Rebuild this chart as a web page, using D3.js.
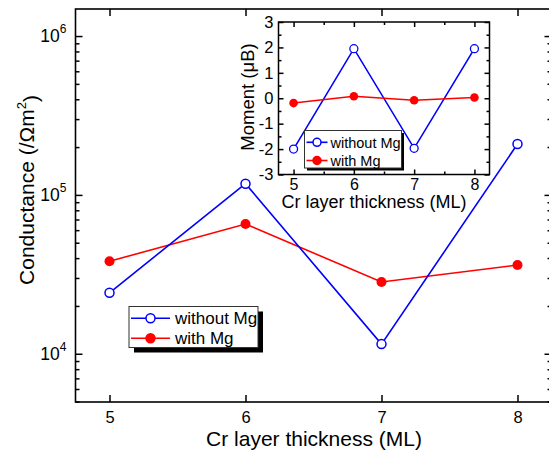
<!DOCTYPE html>
<html>
<head>
<meta charset="utf-8">
<script src="https://cdn.jsdelivr.net/npm/d3@7"></script>
<style>
  body { margin: 0; background: #fff; }
  svg { display: block; font-family: "Liberation Sans", Arial, sans-serif; }
  .axis .domain { display: none; }
  .axis line { stroke: #000; stroke-width: 1.5; }
  .axis text { fill: #000; }
</style>
</head>
<body>
<div id="chart"></div>
<script>
// data
const thickness = [5, 6, 7, 8];
const condWithout = [24200, 117600, 11500, 209000];
const condWith = [38200, 65600, 28300, 36200];
const momentWithout = [-2.0, 1.95, -1.97, 1.95];
const momentWith = [-0.19, 0.08, -0.08, 0.03];
const seriesNames = ["without Mg", "with Mg"];
const condDecades = [1e4, 1e5, 1e6];
const momentTicks = [-3, -2, -1, 0, 1, 2, 3];
const momentMinor = [-2.5, -1.5, -0.5, 0.5, 1.5, 2.5];
const thickMinor = [5.5, 6.5, 7.5];

const width = 549, height = 455,
    main = {left: 75.5, right: 551.5, top: 9, bottom: 402},
    ins = {left: 278.5, right: 489.5, top: 22, bottom: 174.5},
    blue = "#0000ff", red = "#ff0000",
    font = "Liberation Sans, Arial, sans-serif";

const svg = d3.select("#chart")
    .append("svg")
    .attr("width", width)
    .attr("height", height);

// small helper: put an axis in a group, with our own font
function addAxis(axis, tx, ty, size) {
    return svg.append("g")
        .attr("class", "axis")
        .attr("transform", `translate(${tx}, ${ty})`)
        .call(axis)
        .attr("font-size", size || 10)
        .attr("font-family", font);
}

// ---------- main plot ----------
const x = d3.scaleLinear()
    .domain([4.75, 8.25])
    .range([main.left, main.right]);

const y = d3.scaleLog()
    .domain([4970, 1.48e6])
    .range([main.bottom, main.top]);

const logMinor = [];
[1e3, 1e4, 1e5, 1e6].forEach(d => {
    for (let k = 2; k <= 9; k++) {
        const v = d * k;
        if (v > y.domain()[0] && v < y.domain()[1]) logMinor.push(v);
    }
});

svg.append("rect")
    .attr("x", main.left).attr("y", main.top)
    .attr("width", main.right - main.left)
    .attr("height", main.bottom - main.top)
    .attr("fill", "none").attr("stroke", "#000").attr("stroke-width", 1.6);

addAxis(d3.axisBottom(x).tickValues(thickness).tickSize(-7).tickPadding(9).tickFormat(d3.format("d")),
    0, main.bottom, 16.5);
addAxis(d3.axisTop(x).tickValues(thickness).tickSize(-7).tickFormat(""), 0, main.top);

const yAxisG = addAxis(d3.axisLeft(y).tickValues(condDecades).tickSize(-7).tickPadding(9),
    main.left, 0, 17.5);

yAxisG.selectAll(".tick text")
    .each(function(d) {
        const t = d3.select(this).text(null);
        t.append("tspan").text("10");
        t.append("tspan").attr("dy", "-0.75em").attr("font-size", 12).text(Math.round(Math.log10(d)));
    });

addAxis(d3.axisLeft(y).tickValues(logMinor).tickSize(-4).tickFormat(""), main.left, 0);
addAxis(d3.axisRight(y).tickValues(condDecades).tickSize(-7).tickFormat(""), main.right, 0);
addAxis(d3.axisRight(y).tickValues(logMinor).tickSize(-4).tickFormat(""), main.right, 0);

// axis titles
svg.append("text")
    .attr("x", 314).attr("y", 445.5)
    .attr("text-anchor", "middle")
    .attr("font-size", "21px")
    .text("Cr layer thickness (ML)");

const yTitle = svg.append("text")
    .attr("transform", "translate(33.5, 190) rotate(-90)")
    .attr("text-anchor", "middle")
    .attr("font-size", "21px");
yTitle.append("tspan").text("Conductance (/\u03A9m");
yTitle.append("tspan").attr("dy", "-0.6em").attr("font-size", "13px").text("2");
yTitle.append("tspan").attr("dy", "0.6em").text(")");

// series
const mainLine = vals => d3.line()
    .x((d, i) => x(thickness[i]))
    .y(d => y(d))(vals);

svg.append("path").attr("d", mainLine(condWith))
    .attr("fill", "none").attr("stroke", red).attr("stroke-width", 1.6);
svg.append("path").attr("d", mainLine(condWithout))
    .attr("fill", "none").attr("stroke", blue).attr("stroke-width", 1.6);

svg.selectAll(".dot-with")
    .data(condWith)
    .join("circle")
    .attr("cx", (d, i) => x(thickness[i]))
    .attr("cy", d => y(d))
    .attr("r", 5)
    .attr("fill", red);

svg.selectAll(".dot-without")
    .data(condWithout)
    .join("circle")
    .attr("cx", (d, i) => x(thickness[i]))
    .attr("cy", d => y(d))
    .attr("r", 4.5)
    .attr("fill", "#fff").attr("stroke", blue).attr("stroke-width", 1.5);

// legend with drop shadow
function legend(g, opt) {
    g.append("rect")
        .attr("x", opt.x + opt.shadow).attr("y", opt.y + opt.shadow)
        .attr("width", opt.w).attr("height", opt.h).attr("fill", "#000");
    g.append("rect")
        .attr("x", opt.x).attr("y", opt.y)
        .attr("width", opt.w).attr("height", opt.h)
        .attr("fill", "#fff").attr("stroke", "#333").attr("stroke-width", 1);
    seriesNames.forEach((name, i) => {
        const ly = opt.rows[i], col = i === 0 ? blue : red;
        g.append("line")
            .attr("x1", opt.x + 2).attr("x2", opt.x + 2 + opt.lineLen)
            .attr("y1", ly).attr("y2", ly)
            .attr("stroke", col).attr("stroke-width", 1.6);
        g.append("circle")
            .attr("cx", opt.x + 2 + opt.lineLen / 2).attr("cy", ly)
            .attr("r", opt.r)
            .attr("fill", i === 0 ? "#fff" : red)
            .attr("stroke", col).attr("stroke-width", 1.5);
        g.append("text")
            .attr("x", opt.x + opt.textX).attr("y", ly + opt.fs * 0.36)
            .attr("font-size", opt.fs + "px")
            .text(name);
    });
}

legend(svg.append("g"), {x: 129, y: 306.5, w: 129, h: 41, shadow: 5,
    rows: [318.3, 338.3], lineLen: 39, r: 4.5, textX: 46, fs: 17});

// ---------- inset ----------
const xi = d3.scaleLinear()
    .domain([4.75, 8.25])
    .range([ins.left, ins.right]);

const yi = d3.scaleLinear()
    .domain([-3, 3])
    .range([ins.bottom, ins.top]);

svg.append("rect")
    .attr("x", ins.left).attr("y", ins.top)
    .attr("width", ins.right - ins.left)
    .attr("height", ins.bottom - ins.top)
    .attr("fill", "#fff").attr("stroke", "#000").attr("stroke-width", 1.5);

addAxis(d3.axisBottom(xi).tickValues(thickness).tickSize(-5).tickPadding(4.5).tickFormat(d3.format("d")),
    0, ins.bottom, 16);
addAxis(d3.axisBottom(xi).tickValues(thickMinor).tickSize(-3).tickFormat(""), 0, ins.bottom);
addAxis(d3.axisTop(xi).tickValues(thickness).tickSize(-5).tickFormat(""), 0, ins.top);
addAxis(d3.axisTop(xi).tickValues(thickMinor).tickSize(-3).tickFormat(""), 0, ins.top);
addAxis(d3.axisLeft(yi).tickValues(momentTicks).tickSize(-5).tickPadding(5).tickFormat(d => String(d)),
    ins.left, 0, 16.5);
addAxis(d3.axisLeft(yi).tickValues(momentMinor).tickSize(-3).tickFormat(""), ins.left, 0);
addAxis(d3.axisRight(yi).tickValues(momentTicks).tickSize(-5).tickFormat(""), ins.right, 0);
addAxis(d3.axisRight(yi).tickValues(momentMinor).tickSize(-3).tickFormat(""), ins.right, 0);

svg.append("text")
    .attr("x", 374).attr("y", 208)
    .attr("text-anchor", "middle")
    .attr("font-size", "18px")
    .text("Cr layer thickness (ML)");

svg.append("text")
    .attr("transform", "translate(254, 97) rotate(-90)")
    .attr("text-anchor", "middle")
    .attr("font-size", "18.5px")
    .text("Moment (\u03BCB)");

const insetLine = vals => d3.line()
    .x((d, i) => xi(thickness[i]))
    .y(d => yi(d))(vals);

svg.append("path").attr("d", insetLine(momentWithout))
    .attr("fill", "none").attr("stroke", blue).attr("stroke-width", 1.6);
svg.append("path").attr("d", insetLine(momentWith))
    .attr("fill", "none").attr("stroke", red).attr("stroke-width", 1.6);

svg.selectAll(".idot-without")
    .data(momentWithout)
    .join("circle")
    .attr("cx", (d, i) => xi(thickness[i]))
    .attr("cy", d => yi(d))
    .attr("r", 4)
    .attr("fill", "#fff").attr("stroke", blue).attr("stroke-width", 1.3);

svg.selectAll(".idot-with")
    .data(momentWith)
    .join("circle")
    .attr("cx", (d, i) => xi(thickness[i]))
    .attr("cy", d => yi(d))
    .attr("r", 4.3)
    .attr("fill", red);

legend(svg.append("g"), {x: 304.5, y: 130.5, w: 97, h: 37.5, shadow: 2.5,
    rows: [142.3, 160.5], lineLen: 21, r: 4, textX: 26, fs: 14.5});
</script>
</body>
</html>
